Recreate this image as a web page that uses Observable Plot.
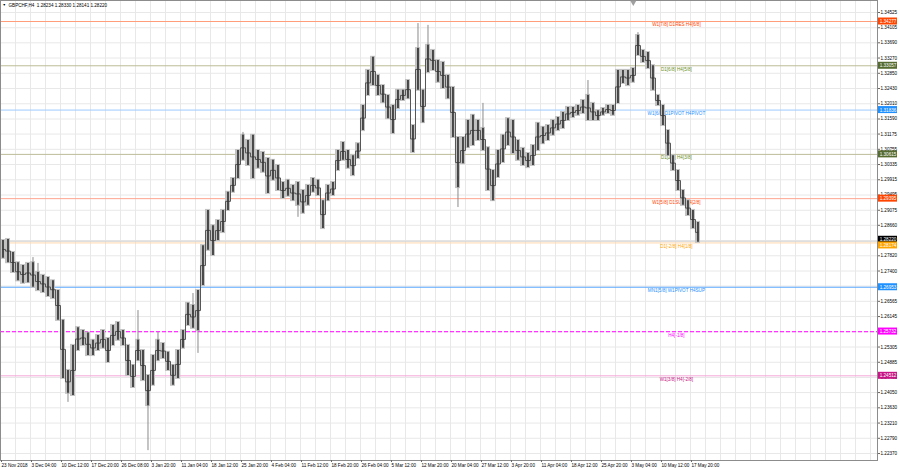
<!DOCTYPE html>
<html><head><meta charset="utf-8">
<script src="https://cdn.jsdelivr.net/npm/d3@7"></script>
<script src="https://cdn.jsdelivr.net/npm/@observablehq/plot@0.6"></script>
<style>
html,body{margin:0;padding:0;background:#fff;}
#chart svg{display:block;}
</style></head><body><div id="chart"></div>
<script>
// ---- data ----
const symbolName = "GBPCHF,H4";
const lastBar = [1.28234, 1.28330, 1.28141, 1.28220]; // open high low close

const timeLabels = ["23 Nov 2018","3 Dec 04:00","10 Dec 12:00","17 Dec 20:00","26 Dec 08:00","3 Jan 20:00",
  "11 Jan 04:00","18 Jan 12:00","25 Jan 20:00","4 Feb 04:00","11 Feb 12:00","18 Feb 20:00","26 Feb 04:00",
  "5 Mar 12:00","12 Mar 20:00","20 Mar 04:00","27 Mar 12:00","3 Apr 20:00","11 Apr 04:00","18 Apr 12:00",
  "25 Apr 20:00","3 May 04:00","10 May 12:00","17 May 20:00"];

const priceTicks = [1.34525,1.34105,1.33690,1.33270,1.32850,1.32430,1.32010,1.31590,1.31175,1.30755,
  1.30335,1.29915,1.29495,1.29075,1.28660,1.28240,1.27820,1.27400,1.26985,1.26565,1.26145,1.25725,
  1.25305,1.24885,1.24465,1.24050,1.23630,1.23210,1.22790,1.22370];

const levelPrices = [1.34277,1.33057,1.31836,1.30615,1.29395,1.28174,1.26953,1.25732,1.24512];
const levelNames = ["W1[7/8] D1RES H4[6/8]","D1[6/8] H4[5/8]","W1[6/8] D1PIVOT H4PIVOT","D1[2/8] H4[3/8]",
  "W1[5/8] D1SUP H4[2/8]","D1[-2/8] H4[1/8]","MN1[5/8] W1PIVOT H4SUP","H4[-1/8]","W1[3/8] H4[-2/8]"];

// price range (high / low) of each group of H4 bars, read left to right
const colHigh = [1.2824,1.2827,1.2791,1.2763,1.2755,1.2761,1.2763,1.2736,1.2728,1.2722,
 1.2713,1.2686,1.2604,1.2466,1.2535,1.2584,1.2576,1.2569,1.2549,1.2562,
 1.2576,1.2554,1.2590,1.2598,1.2576,1.2535,1.2480,1.2549,1.2521,1.2452,
 1.2507,1.2549,1.2540,1.2516,1.2480,1.2521,1.2576,1.2651,1.2645,1.2686,
 1.2810,1.2907,1.2865,1.2879,1.2907,1.2957,1.2995,1.3072,1.3114,1.3100,
 1.3114,1.3072,1.3067,1.3050,1.3045,1.3031,1.2984,1.2990,1.2976,1.2984,
 1.2962,1.2976,1.2995,1.2990,1.2934,1.2976,1.2984,1.3072,1.3094,1.3072,
 1.3058,1.3091,1.3196,1.3293,1.3329,1.3279,1.3251,1.3224,1.3196,1.3238,
 1.3238,1.3265,1.3141,1.3353,1.3238,1.3362,1.3348,1.3320,1.3315,1.3279,
 1.3246,1.3108,1.3108,1.3155,1.3169,1.3155,1.3133,1.3080,1.3017,1.3072,
 1.3114,1.3160,1.3155,1.3100,1.3078,1.3064,1.3086,1.3147,1.3136,1.3141,
 1.3155,1.3163,1.3177,1.3191,1.3191,1.3196,1.3210,1.3224,1.3202,1.3182,
 1.3188,1.3196,1.3196,1.3293,1.3293,1.3293,1.3298,1.3389,1.3348,1.3342,
 1.3306,1.3224,1.3196,1.3127,1.3058,1.3017,1.2962,1.2934,1.2907,1.2874];
const colLow = [1.2775,1.2763,1.2736,1.2713,1.2706,1.2708,1.2695,1.2686,1.2681,1.2670,
 1.2664,1.2604,1.2444,1.2403,1.2397,1.2521,1.2535,1.2507,1.2507,1.2521,
 1.2527,1.2488,1.2535,1.2549,1.2535,1.2452,1.2419,1.2493,1.2438,1.2369,
 1.2425,1.2493,1.2499,1.2466,1.2425,1.2444,1.2527,1.2590,1.2582,1.2576,
 1.2700,1.2797,1.2783,1.2824,1.2846,1.2907,1.2957,1.2995,1.3045,1.3031,
 1.2995,1.3023,1.3012,1.2954,1.2990,1.2962,1.2940,1.2946,1.2934,1.2921,
 1.2899,1.2921,1.2957,1.2948,1.2857,1.2934,1.2948,1.3017,1.3045,1.3023,
 1.3003,1.3050,1.3127,1.3224,1.3251,1.3224,1.3204,1.3160,1.3119,1.3188,
 1.3210,1.3215,1.3067,1.3238,1.3149,1.3287,1.3293,1.3260,1.3243,1.3215,
 1.3108,1.2970,1.3036,1.3080,1.3086,1.3100,1.3072,1.2962,1.2934,1.2998,
 1.3039,1.3086,1.3064,1.3045,1.3031,1.3025,1.3031,1.3072,1.3091,1.3100,
 1.3114,1.3127,1.3133,1.3155,1.3163,1.3169,1.3174,1.3155,1.3155,1.3155,
 1.3169,1.3174,1.3169,1.3202,1.3257,1.3251,1.3260,1.3334,1.3315,1.3298,
 1.3238,1.3196,1.3141,1.3058,1.3017,1.2962,1.2921,1.2893,1.2857,1.2819];

// long shadows (group index, high, low)
const wickCol  = [6, 7, 13, 27, 29, 31, 38, 39, 48, 59, 83, 85, 91, 96, 117, 127];
const wickHigh = [1.2777,1.2761,1.2440,1.2631,1.2420,1.2571,1.2678,1.2600,1.3122,1.2940,1.3422,1.3417,1.3000,1.3202,1.3265,1.3397];
const wickLow  = [1.2700,1.2700,1.2378,1.2520,1.2245,1.2520,1.2620,1.2513,1.3080,1.2888,1.3300,1.3330,1.2915,1.3120,1.3200,1.3360];

// ---- styles ----
const levelTextColors = ["#ff4500","#6b8e23","#1e90ff","#6b8e23","#ff4500","#ffa500","#1e90ff","#ff00ff","#c71585"];
const levelBoxColors  = ["#ff4500","#556b2f","#1e90ff","#556b2f","#ff4500","#ffa500","#1e90ff","#ff00ff","#c71585"];
const levelLineColors = ["#ff9c7a","#bcbc98","#9ccaff","#bcbc98","#ffa590","#ffd9ad","#5aa8ff","#ff33ff","#f4a6d8"];
const DASHED_LEVEL = 7;

const BARS_PER_GROUP = 16/3, BARS_PER_LABEL = 32, BARS_PER_GRID = 16;
const X_END = 935.5, LABEL_BAR = 721, SHIFT_BAR = 675;
const FONT = 4.6;

const groups = colHigh.map((h,i)=>({i, hi:h, lo:colLow[i]}));
const wicks = wickCol.map((c,k)=>({c, hi:wickHigh[k], lo:wickLow[k]}));
const levels = levelPrices.map((v,i)=>({v, i, name:levelNames[i]}));
const gridBars = d3.range(BARS_PER_GRID, X_END, BARS_PER_GRID);
const labelBars = timeLabels.map((_,i)=>i*BARS_PER_LABEL);
const close = lastBar[3];
const header = `${symbolName}  ${lastBar.map(v=>v.toFixed(5)).join(" ")}`;
const gx = d => (d.i + 0.5) * BARS_PER_GROUP;

const boxOpts = {x1: X_END, x2: X_END, insetLeft: 1, insetRight: -20, insetTop: -3.5, insetBottom: -3.5};
const solidLevels = levels.filter(d=>d.i!==DASHED_LEVEL);
const dashedLevel = levels.filter(d=>d.i===DASHED_LEVEL);

const plot = Plot.plot({
  width: 900, height: 470,
  marginLeft: 0, marginRight: 23, marginTop: 0, marginBottom: 10,
  style: {fontFamily: "'Liberation Sans', Arial, sans-serif", fontSize: FONT+"px", background: "#fff", color: "#000"},
  x: {domain: [0, X_END]},
  y: {domain: [1.22178, 1.34856]},
  marks: [
    Plot.ruleX(gridBars, {stroke: "#e8e8e8"}),
    Plot.ruleY(priceTicks, {stroke: "#e8e8e8"}),
    Plot.ruleY(solidLevels, {y: "v", stroke: d=>levelLineColors[d.i]}),
    Plot.ruleY(dashedLevel, {y: "v", stroke: levelLineColors[DASHED_LEVEL], strokeWidth: 1.2, strokeDasharray: "4,2"}),
    Plot.ruleY([close], {stroke: "#d4d4d4"}),
    Plot.text(levels, {x: LABEL_BAR, y: "v", text: "name", fill: d=>levelTextColors[d.i], dy: 3.5, fontSize: FONT}),
    // bars: light shadow band, long shadows, dark bodies
    Plot.rect(groups, {x1: d=>d.i*BARS_PER_GROUP, x2: d=>(d.i+1)*BARS_PER_GROUP, y1: "lo", y2: "hi",
      fill: "#c2c2c2", insetTop: -1, insetBottom: -1}),
    Plot.ruleX(wicks, {x: d=>(d.c+0.5)*BARS_PER_GROUP, y1: "lo", y2: "hi", stroke: "#8a8a8a"}),
    Plot.line(groups, {x: gx, y: d=>(d.hi+d.lo)/2, stroke: "#555", strokeWidth: 1, curve: "step"}),
    Plot.ruleX(groups, {x: gx, y1: "lo", y2: "hi", stroke: "#353535", strokeWidth: 1.7}),
    Plot.frame({stroke: "#8c8c8c"}),
    // axes
    Plot.axisY(priceTicks, {anchor: "right", tickFormat: d=>d.toFixed(5), tickSize: 2, tickPadding: 1,
      textAnchor: "start", fontSize: FONT, stroke: "#666"}),
    Plot.axisX(labelBars, {anchor: "bottom", tickFormat: d=>timeLabels[Math.round(d/BARS_PER_LABEL)],
      tickSize: 2, tickPadding: 1, textAnchor: "start", fontSize: FONT, dx: 1, stroke: "#666"}),
    // price boxes
    Plot.rect(levels.filter(d=>d.i!==5), {...boxOpts, y1: "v", y2: "v", fill: d=>levelBoxColors[d.i]}),
    Plot.text(levels.filter(d=>d.i!==5), {x: X_END, y: "v", text: d=>d.v.toFixed(5), dx: 10.5, fill: "#fff", fontSize: FONT}),
    Plot.rect([close], {...boxOpts, y1: d=>d, y2: d=>d, fill: "#000", dy: -1.5}),
    Plot.text([close], {x: X_END, y: d=>d, text: d=>d.toFixed(5), dx: 10.5, dy: -1.5, fill: "#fff", fontSize: FONT}),
    Plot.rect(levels.filter(d=>d.i===5), {...boxOpts, y1: "v", y2: "v", fill: d=>levelBoxColors[d.i], dy: 2.5}),
    Plot.text(levels.filter(d=>d.i===5), {x: X_END, y: "v", text: d=>d.v.toFixed(5), dx: 10.5, dy: 2.5, fill: "#fff", fontSize: FONT}),
    // header & shift marker
    Plot.text(["\u25BC"], {frameAnchor: "top-left", dx: 2, dy: 3, fontSize: 3.5, fill: "#000", textAnchor: "start"}),
    Plot.text([header], {frameAnchor: "top-left", dx: 8, dy: 3, fontSize: FONT, fill: "#000", textAnchor: "start"}),
    Plot.dot([SHIFT_BAR], {x: d=>d, frameAnchor: "top", symbol: "triangle", r: 2.2, fill: "#a0a0a0", rotate: 180, dy: 2})
  ]
});
document.getElementById("chart").appendChild(plot);
</script></body></html>
